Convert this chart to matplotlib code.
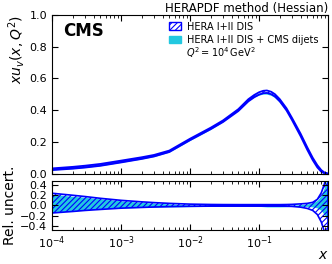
import numpy as np
import matplotlib
matplotlib.use('Agg')
import matplotlib.pyplot as plt
from matplotlib.patches import Patch
from matplotlib.ticker import LogLocator, MultipleLocator, NullFormatter

# x grid and HERA I+II central xu_v at Q^2 = 1e4 GeV^2
x = [1e-4, 2e-4, 3e-4, 5e-4, 1e-3, 2e-3, 3e-3, 5e-3, 1e-2, 2e-2, 3e-2, 5e-2,
     7e-2, 0.085, 0.1, 0.115, 0.13, 0.15, 0.17, 0.2, 0.25, 0.3, 0.4, 0.5,
     0.6, 0.7, 0.8, 0.9, 1.0]
xuv = [0.027, 0.036, 0.043, 0.054, 0.075, 0.097, 0.112, 0.14, 0.215, 0.285,
       0.33, 0.40, 0.462, 0.488, 0.505, 0.514, 0.516, 0.508, 0.493, 0.462,
       0.405, 0.345, 0.245, 0.16, 0.095, 0.048, 0.018, 0.004, 0.0]

# HERA relative uncertainty (up / down)
hera_up = [0.24, 0.20, 0.175, 0.14, 0.10, 0.07, 0.055, 0.04, 0.025, 0.018,
           0.016, 0.015, 0.015, 0.015, 0.015, 0.015, 0.015, 0.015, 0.015,
           0.015, 0.017, 0.02, 0.03, 0.04, 0.06, 0.12, 0.25, 0.45, 0.8]
hera_dn = [-0.15, -0.12, -0.10, -0.08, -0.055, -0.04, -0.032, -0.025, -0.018,
           -0.015, -0.015, -0.015, -0.015, -0.015, -0.015, -0.015, -0.015,
           -0.015, -0.015, -0.015, -0.017, -0.02, -0.035, -0.06, -0.10, -0.18,
           -0.33, -0.55, -0.9]

# HERA + CMS dijets, relative to HERA central
cms_up = [0.22, 0.18, 0.16, 0.13, 0.09, 0.06, 0.045, 0.03, 0.01, 0.0,
          0.01, 0.02, 0.015, 0.01, 0.005, 0.0, -0.005, -0.008, -0.01, -0.01,
          -0.005, 0.005, 0.015, 0.03, 0.05, 0.1, 0.2, 0.38, 0.6]
cms_dn = [-0.14, -0.11, -0.09, -0.07, -0.05, -0.04, -0.035, -0.03, -0.025,
          -0.02, -0.01, 0.0, -0.005, -0.01, -0.02, -0.025, -0.03, -0.03,
          -0.03, -0.03, -0.025, -0.02, -0.02, -0.02, -0.03, -0.05, -0.1,
          -0.2, -0.3]

x_ticks = [1e-4, 1e-3, 1e-2, 1e-1]

x = np.array(x)
xuv = np.array(xuv)
hera_up, hera_dn = np.array(hera_up), np.array(hera_dn)
cms_up, cms_dn = np.array(cms_up), np.array(cms_dn)

plt.rcParams['hatch.linewidth'] = 0.8
plt.rcParams['hatch.color'] = 'blue'

fig = plt.figure(figsize=(3.32, 2.64), dpi=100)
ax = fig.add_axes([0.157, 0.342, 0.831, 0.602])
ax2 = fig.add_axes([0.157, 0.130, 0.831, 0.184])

cyan = '#22c8e0'
ax.fill_between(x, xuv * (1 + cms_dn), xuv * (1 + cms_up), color=cyan, lw=0)
ax.fill_between(x, xuv * (1 + hera_dn), xuv * (1 + hera_up), facecolor='none',
                edgecolor='blue', hatch='//////', lw=1.3)
ax2.fill_between(x, cms_dn, cms_up, color=cyan, lw=0)
ax2.fill_between(x, hera_dn, hera_up, facecolor='none',
                 edgecolor='blue', hatch='//////', lw=1.2)

for a in (ax, ax2):
    a.set_xscale('log')
    a.set_xlim(1e-4, 1)
    a.set_xticks(x_ticks)
    a.tick_params(which='both', direction='in', top=True, right=True,
                  labelsize=8)
    a.tick_params(which='major', length=4)
    a.tick_params(which='minor', length=2)
    a.xaxis.set_minor_locator(LogLocator(subs=np.arange(2, 10)))

ax.set_ylim(0, 1)
ax.yaxis.set_major_locator(MultipleLocator(0.2))
ax.xaxis.set_major_formatter(NullFormatter())
ax.set_ylabel('$xu_v(x, Q^2)$', fontsize=10, loc='top', labelpad=2)

ax2.set_ylim(-0.48, 0.48)
ax2.set_yticks([-0.4, -0.2, 0.0, 0.2, 0.4])
ax2.set_ylabel('Rel. uncert.', fontsize=10, labelpad=2)
fig.text(0.99, 0.035, '$x$', fontsize=10, ha='right', va='center')

ax.text(0.04, 0.9, 'CMS', transform=ax.transAxes, fontsize=12,
        fontweight='bold', va='center')
ax.set_title('HERAPDF method (Hessian)', loc='right', fontsize=8.5, pad=0)

handles = [Patch(facecolor='white', edgecolor='blue', hatch='//////'),
           Patch(facecolor=cyan, edgecolor=cyan)]
ax.legend(handles, ['HERA I+II DIS', 'HERA I+II DIS + CMS dijets'],
          loc='upper left', bbox_to_anchor=(0.40, 1.0), fontsize=7,
          frameon=False, handlelength=1.2, handleheight=0.8,
          borderaxespad=0.3, labelspacing=0.35, handletextpad=0.6)
ax.text(0.486, 0.759, '$Q^2 = 10^4\\,\\mathrm{GeV}^2$', transform=ax.transAxes,
        fontsize=7, va='center')

fig.savefig('out.png', dpi=100)
